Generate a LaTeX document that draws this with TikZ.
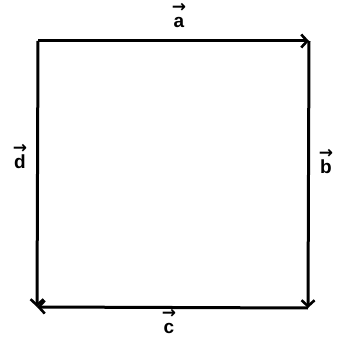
\documentclass[tikz,border=0pt]{standalone}
\usepackage{fontspec}
\setmainfont{Liberation Sans}
\newfontfamily\arrfont{DejaVu Sans}
\usetikzlibrary{arrows.meta}
\newcommand{\vlet}[1]{{\arrfont\fontsize{17}{17}\selectfont →}\\#1}
\begin{document}
\begin{tikzpicture}[x=1pt, y=-1pt, font=\bfseries\fontsize{19}{15}\selectfont,
          side/.style={-{Straight Barb[length=6pt, width=13pt, line width=2.6pt]}, line width=3pt},
          vlab/.style={inner sep=0pt, align=center}]
        \useasboundingbox (0,0) rectangle (346,337);
        \coordinate (tl) at (38,41);
        \coordinate (tr) at (309,41);
        \coordinate (br) at (308,308);
        \coordinate (bl) at (37,307);
        \draw[side] (tl) -- (tr);
        \draw[side] (tr) -- (br);
        \draw[side] (br) -- (bl);
        \draw[side] (tl) -- (bl);
        \node[vlab] (a) at (179,16)  {\vlet{a}};
        \node[vlab] (b) at (326,162) {\vlet{b}};
        \node[vlab] (c) at (169,322) {\vlet{c}};
        \node[vlab] (d) at (20,157)  {\vlet{d}};
      \end{tikzpicture}
\end{document}
